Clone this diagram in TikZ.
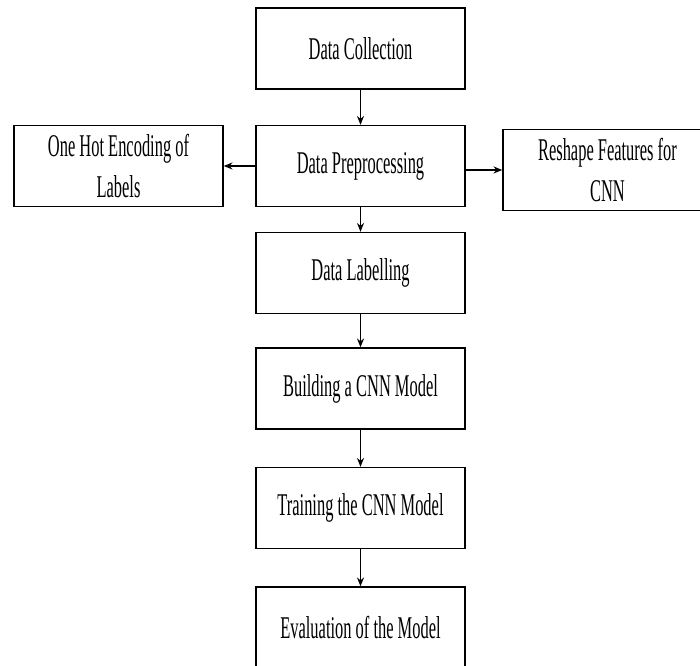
\documentclass[tikz,border=0pt]{standalone}
\usepackage{fontspec}
\usepackage{tikz}
\usetikzlibrary{arrows.meta}
\newfontfamily\boxfont[FakeStretch=0.52]{Liberation Serif}

\tikzset{
  stage/.style={draw, line width=0.8pt, minimum width=4.18cm, minimum height=1.62cm,
    align=center, inner sep=0pt, font=\boxfont\fontsize{18}{23.5}\selectfont},
  flow/.style={-{Stealth[length=5pt,width=4pt]}, line width=0.8pt}
}

\begin{document}
\begin{tikzpicture}
  \useasboundingbox (0,0) rectangle (14,13.32);
  \clip (0,0) rectangle (14,13.32);
  % Etapas principais
  \node[stage] (collect) at (7.21,12.35) {Data Collection};
  \node[stage] (prep)    at (7.21,10.00) {Data Preprocessing};
  \node[stage] (label)   at (7.21,7.86)  {Data Labelling};
  \node[stage] (build)   at (7.21,5.55)  {Building a CNN Model};
  \node[stage] (train)   at (7.21,3.16)  {Training the CNN Model};
  \node[stage] (eval)    at (7.21,0.77)  {Evaluation of the Model};
  % Etapas laterais
  \node[stage] (onehot)  at (2.37,10.00) {One Hot Encoding of\\Labels};
  \node[stage] (reshape) at (12.15,9.92) {Reshape Features for\\CNN};
  % Setas
  \draw[flow] (collect) -- (prep);
  \draw[flow] (prep) -- (label);
  \draw[flow] (label) -- (build);
  \draw[flow] (build) -- (train);
  \draw[flow] (train) -- (eval);
  \draw[flow] (prep) -- (onehot);
  \draw[flow] (prep.east |- reshape.west) -- (reshape.west);
\end{tikzpicture}
\end{document}
